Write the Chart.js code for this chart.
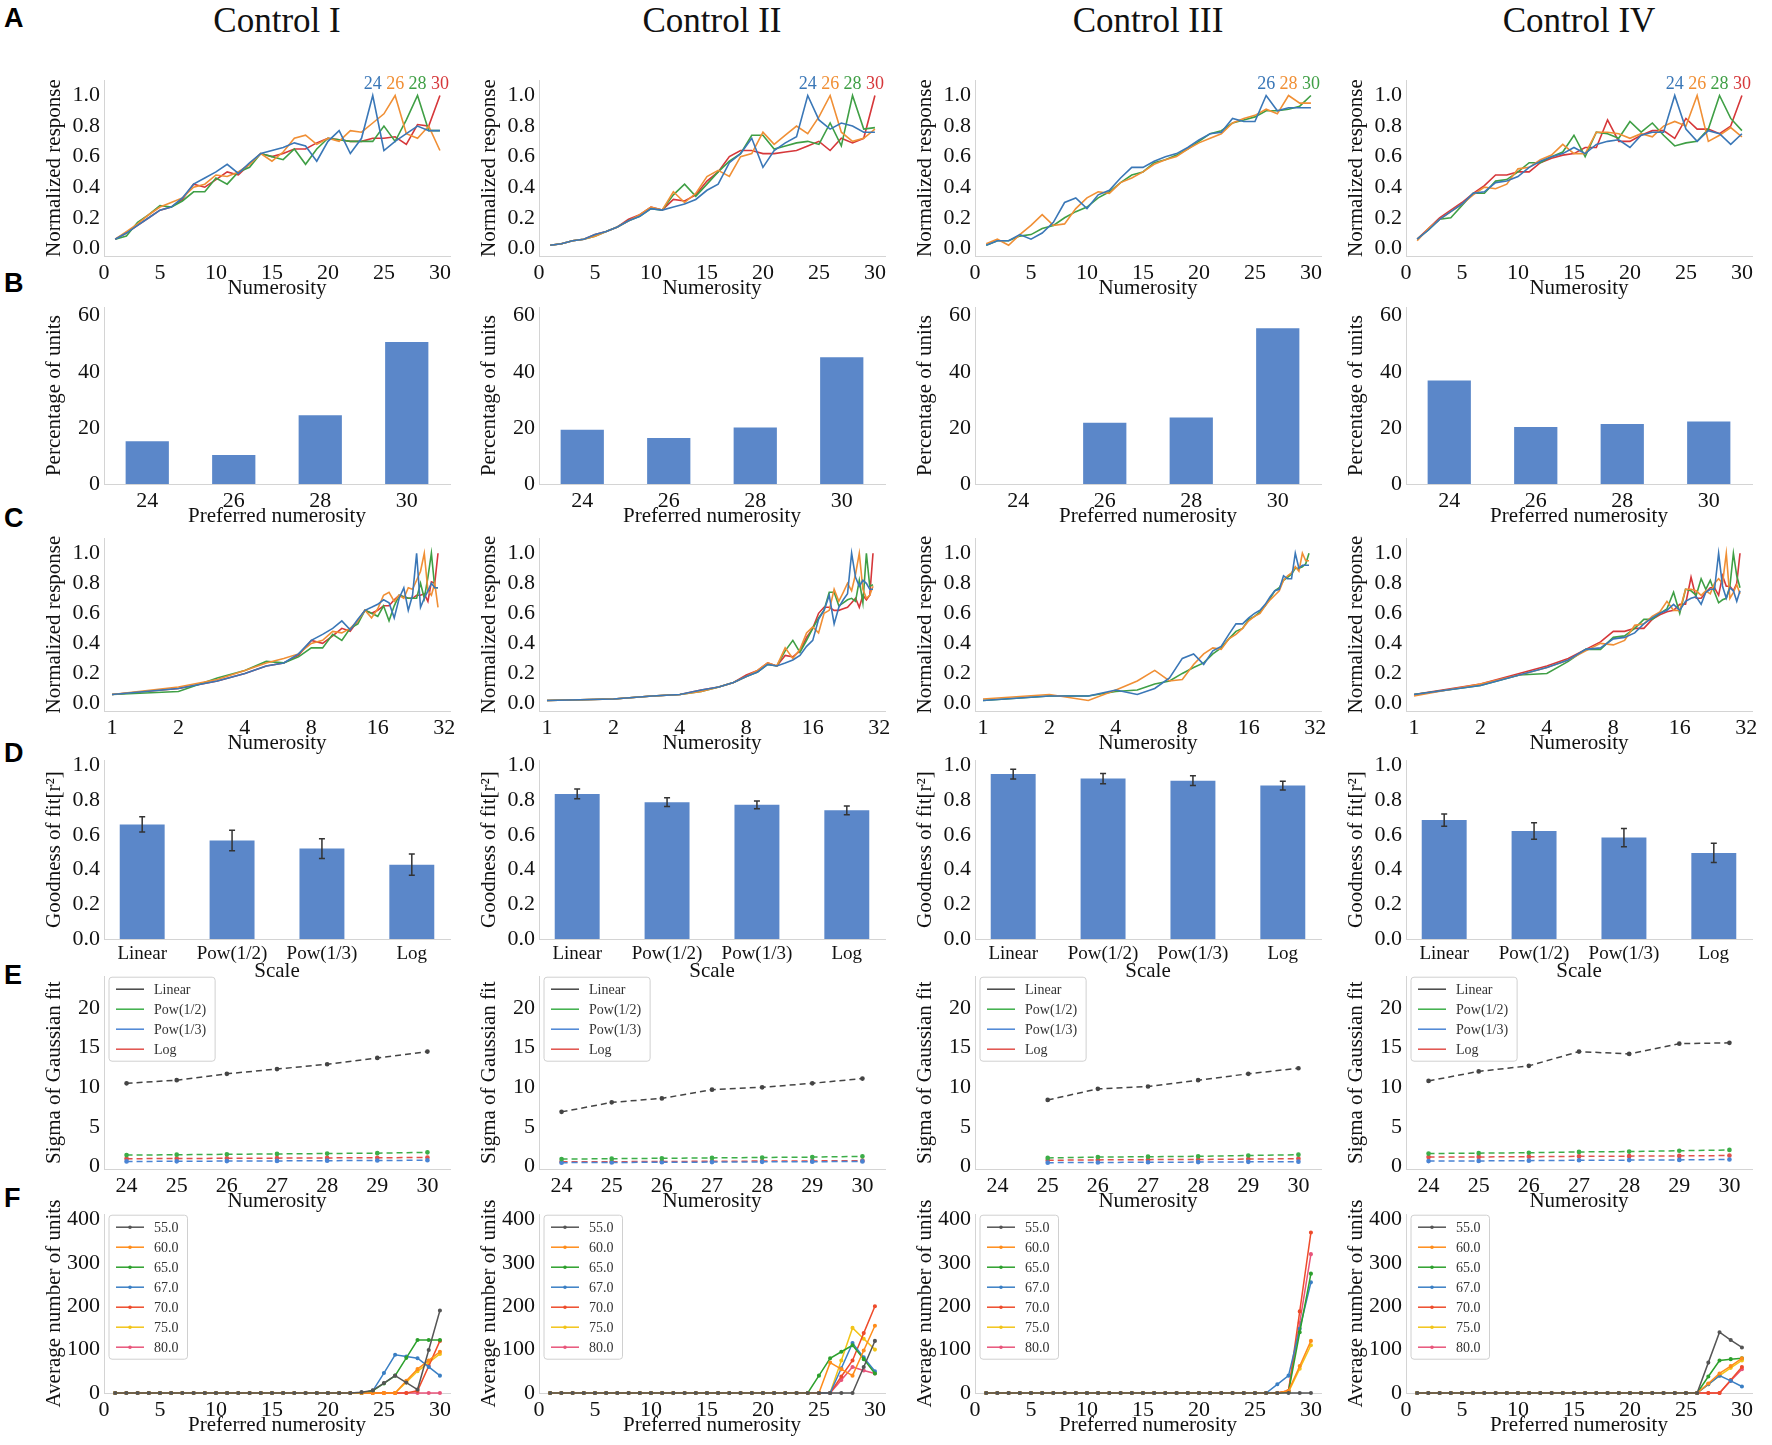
<!DOCTYPE html>
<html>
<head>
<meta charset="utf-8">
<script src="https://cdn.jsdelivr.net/npm/chart.js@4.4.0/dist/chart.umd.min.js"></script>
<style>
  html, body { margin: 0; padding: 0; background: #fff; }
  body { width: 1772px; height: 1445px; position: relative; overflow: hidden; font-family: 'Liberation Serif', serif; }
  .title { position: absolute; font-family: 'Liberation Serif', serif; font-size: 35px; line-height: 35px;
           color: #111; transform: translateX(-50%); white-space: nowrap; }
  .letter { position: absolute; left: 4px; font-family: 'Liberation Sans', Arial, sans-serif; font-weight: bold;
            font-size: 27px; line-height: 27px; color: #000; }
</style>
</head>
<body>
<script>
// ---- data ----
const CONTROLS = ['Control I', 'Control II', 'Control III', 'Control IV'];
const NUMS = [1,2,3,4,5,6,7,8,9,10,11,12,13,14,15,16,17,18,19,20,21,22,23,24,25,26,27,28,29,30];

// normalized tuning curves (rows A and C)
const CI_24 = [0.06,0.10,0.15,0.20,0.25,0.27,0.33,0.42,0.46,0.50, 0.55,0.49,0.56,0.62,0.64,0.66,0.69,0.67,0.57,0.70, 0.77,0.62,0.72,1.00,0.64,0.70,0.75,0.80,0.77,0.77];
const CI_26 = [0.06,0.11,0.16,0.22,0.27,0.30,0.33,0.40,0.42,0.48, 0.47,0.50,0.55,0.62,0.57,0.63,0.72,0.74,0.68,0.72, 0.70,0.77,0.76,0.82,0.88,1.00,0.75,0.72,0.80,0.64];
const CI_28 = [0.06,0.08,0.17,0.22,0.28,0.27,0.31,0.37,0.37,0.46, 0.42,0.50,0.53,0.62,0.60,0.58,0.65,0.55,0.65,0.72, 0.71,0.70,0.70,0.70,0.80,0.70,0.84,1.00,0.77,0.77];
const CI_30 = [0.06,0.10,0.15,0.20,0.25,0.27,0.32,0.42,0.40,0.45, 0.50,0.48,0.55,0.62,0.60,0.62,0.65,0.65,0.69,0.72, 0.71,0.70,0.70,0.72,0.72,0.73,0.68,0.81,0.80,1.00];

const CII_24 = [0.02,0.03,0.05,0.06,0.09,0.11,0.14,0.18,0.21,0.26, 0.25,0.27,0.29,0.32,0.38,0.42,0.56,0.62,0.72,0.53, 0.64,0.69,0.73,1.00,0.84,0.78,0.82,0.80,0.76,0.76];
const CII_26 = [0.02,0.03,0.05,0.06,0.08,0.11,0.14,0.18,0.22,0.27, 0.25,0.37,0.30,0.36,0.47,0.51,0.47,0.60,0.62,0.76, 0.68,0.74,0.80,0.75,0.86,1.00,0.76,0.70,0.72,0.78];
const CII_28 = [0.02,0.03,0.05,0.06,0.08,0.11,0.14,0.18,0.21,0.26, 0.25,0.35,0.42,0.34,0.42,0.50,0.57,0.62,0.74,0.74, 0.65,0.67,0.69,0.70,0.68,0.82,0.67,1.00,0.78,0.79];
const CII_30 = [0.02,0.03,0.05,0.06,0.09,0.11,0.14,0.19,0.22,0.27, 0.25,0.32,0.31,0.35,0.44,0.50,0.60,0.64,0.64,0.62, 0.62,0.63,0.64,0.67,0.70,0.64,0.72,0.69,0.72,1.00];

const CIII_26 = [0.02,0.05,0.05,0.09,0.06,0.10,0.17,0.30,0.33,0.26, 0.35,0.38,0.46,0.53,0.53,0.57,0.60,0.62,0.66,0.71, 0.75,0.76,0.85,0.83,0.83,1.00,0.90,0.92,0.92,0.92];
const CIII_28 = [0.03,0.06,0.02,0.09,0.15,0.22,0.15,0.16,0.26,0.33, 0.37,0.36,0.43,0.46,0.50,0.55,0.58,0.60,0.65,0.69, 0.72,0.75,0.82,0.85,0.87,0.91,0.88,1.00,0.95,0.95];
const CIII_30 = [0.02,0.05,0.05,0.08,0.09,0.13,0.15,0.20,0.24,0.27, 0.33,0.37,0.43,0.48,0.50,0.56,0.58,0.61,0.65,0.70, 0.75,0.77,0.82,0.84,0.86,0.90,0.90,0.91,0.93,1.00];

const CIV_24 = [0.06,0.12,0.19,0.24,0.29,0.36,0.37,0.43,0.44,0.47, 0.53,0.57,0.60,0.62,0.66,0.62,0.68,0.70,0.71,0.66, 0.74,0.76,0.76,1.00,0.78,0.70,0.77,0.75,0.68,0.75];
const CIV_26 = [0.05,0.13,0.19,0.24,0.29,0.35,0.40,0.39,0.42,0.52, 0.53,0.58,0.61,0.68,0.62,0.62,0.76,0.76,0.75,0.72, 0.75,0.73,0.80,0.83,0.80,1.00,0.70,0.74,0.79,0.73];
const CIV_28 = [0.06,0.12,0.19,0.20,0.28,0.36,0.36,0.44,0.45,0.50, 0.56,0.56,0.60,0.63,0.74,0.60,0.76,0.75,0.72,0.83, 0.76,0.82,0.74,0.67,0.69,0.70,0.78,1.00,0.85,0.77];
const CIV_30 = [0.06,0.13,0.20,0.25,0.30,0.36,0.41,0.48,0.48,0.50, 0.50,0.56,0.59,0.61,0.62,0.66,0.66,0.84,0.70,0.70, 0.74,0.77,0.77,0.72,0.85,0.78,0.78,0.75,0.80,1.00];

const RESP = [[CI_24, CI_26, CI_28, CI_30], [CII_24, CII_26, CII_28, CII_30],
              [CIII_26, CIII_28, CIII_30], [CIV_24, CIV_26, CIV_28, CIV_30]];
const PREFS = [[24, 26, 28, 30], [24, 26, 28, 30], [26, 28, 30], [24, 26, 28, 30]];

// row B: percentage of units per preferred numerosity
const PREF_NUMS = [24, 26, 28, 30];
const PCT_CI   = [15.2, 10.3, 24.5, 50.6];
const PCT_CII  = [19.3, 16.4, 20.1, 45.2];
const PCT_CIII = [0, 21.8, 23.7, 55.5];
const PCT_CIV  = [36.9, 20.3, 21.4, 22.3];
const PCT = [PCT_CI, PCT_CII, PCT_CIII, PCT_CIV];

// row D: goodness of fit
const SCALE_NAMES = ['Linear', 'Pow(1/2)', 'Pow(1/3)', 'Log'];
const FIT_CI   = [0.660, 0.567, 0.521, 0.428];
const FIT_CII  = [0.836, 0.788, 0.773, 0.741];
const FIT_CIII = [0.950, 0.924, 0.912, 0.884];
const FIT_CIV  = [0.685, 0.622, 0.584, 0.496];
const ERR_CI   = [0.044, 0.059, 0.057, 0.061];
const ERR_CII  = [0.028, 0.025, 0.022, 0.025];
const ERR_CIII = [0.028, 0.030, 0.028, 0.025];
const ERR_CIV  = [0.035, 0.047, 0.053, 0.055];
const FIT = [FIT_CI, FIT_CII, FIT_CIII, FIT_CIV];
const ERR = [ERR_CI, ERR_CII, ERR_CIII, ERR_CIV];

// row E: sigma of gaussian fit
const E_NUMS = [24, 25, 26, 27, 28, 29, 30];
const SIG_CI   = { Linear: [10.5, 10.9, 11.7, 12.3, 12.9, 13.7, 14.5], Pow12: [1.45, 1.5, 1.55, 1.6, 1.65, 1.7, 1.8],
                   Pow13: [0.65, 0.67, 0.7, 0.72, 0.75, 0.77, 0.8], Log: [1.0, 1.02, 1.05, 1.07, 1.1, 1.12, 1.15] };
const SIG_CII  = { Linear: [6.9, 8.1, 8.6, 9.7, 10.0, 10.5, 11.1], Pow12: [0.95, 1.0, 1.05, 1.1, 1.15, 1.2, 1.3],
                   Pow13: [0.5, 0.52, 0.55, 0.57, 0.6, 0.62, 0.65], Log: [0.6, 0.62, 0.65, 0.67, 0.7, 0.72, 0.75] };
const SIG_CIII = { Linear: [null, 8.4, 9.8, 10.1, 10.9, 11.7, 12.4], Pow12: [null, 1.1, 1.2, 1.25, 1.3, 1.4, 1.5],
                   Pow13: [null, 0.5, 0.52, 0.55, 0.57, 0.6, 0.62], Log: [null, 0.8, 0.85, 0.88, 0.9, 0.95, 1.0] };
const SIG_CIV  = { Linear: [10.8, 12.0, 12.7, 14.5, 14.2, 15.5, 15.6], Pow12: [1.65, 1.7, 1.75, 1.85, 1.9, 2.0, 2.1],
                   Pow13: [0.7, 0.72, 0.75, 0.8, 0.82, 0.85, 0.9], Log: [1.2, 1.22, 1.25, 1.3, 1.32, 1.35, 1.4] };
const SIG = [SIG_CI, SIG_CII, SIG_CIII, SIG_CIV];
const SIG_KEYS = ['Linear', 'Pow12', 'Pow13', 'Log'];
const SIG_LABELS = ['Linear', 'Pow(1/2)', 'Pow(1/3)', 'Log'];

// row F: average number of units per threshold
const THRESH = ['55.0', '60.0', '65.0', '67.0', '70.0', '75.0', '80.0'];
const UNITS_CI = [
  [0,0,0,0,0,0,0,0,0,0, 0,0,0,0,0,0,0,0,0,0, 0,0,2,6,23,40,24,8,99,190],
  [0,0,0,0,0,0,0,0,0,0, 0,0,0,0,0,0,0,0,0,0, 0,0,0,0,0,0,28,55,75,95],
  [0,0,0,0,0,0,0,0,0,0, 0,0,0,0,0,0,0,0,0,0, 0,0,0,5,22,40,81,122,122,122],
  [0,0,0,0,0,0,0,0,0,0, 0,0,0,0,0,0,0,0,0,0, 0,0,0,5,46,88,84,80,60,40],
  [0,0,0,0,0,0,0,0,0,0, 0,0,0,0,0,0,0,0,0,0, 0,0,0,0,0,0,0,5,62,120],
  [0,0,0,0,0,0,0,0,0,0, 0,0,0,0,0,0,0,0,0,0, 0,0,0,0,0,0,25,50,70,90],
  [0,0,0,0,0,0,0,0,0,0, 0,0,0,0,0,0,0,0,0,0, 0,0,0,0,0,0,0,0,0,0]
];
const UNITS_CII = [
  [0,0,0,0,0,0,0,0,0,0, 0,0,0,0,0,0,0,0,0,0, 0,0,0,0,0,0,0,0,60,120],
  [0,0,0,0,0,0,0,0,0,0, 0,0,0,0,0,0,0,0,0,0, 0,0,0,0,0,70,55,40,98,155],
  [0,0,0,0,0,0,0,0,0,0, 0,0,0,0,0,0,0,0,0,0, 0,0,0,0,40,80,95,110,78,45],
  [0,0,0,0,0,0,0,0,0,0, 0,0,0,0,0,0,0,0,0,0, 0,0,0,0,0,0,57,115,82,50],
  [0,0,0,0,0,0,0,0,0,0, 0,0,0,0,0,0,0,0,0,0, 0,0,0,0,0,0,38,75,138,200],
  [0,0,0,0,0,0,0,0,0,0, 0,0,0,0,0,0,0,0,0,0, 0,0,0,0,0,0,75,150,125,100],
  [0,0,0,0,0,0,0,0,0,0, 0,0,0,0,0,0,0,0,0,0, 0,0,0,0,0,0,30,60,52,45]
];
const UNITS_CIII = [
  [0,0,0,0,0,0,0,0,0,0, 0,0,0,0,0,0,0,0,0,0, 0,0,0,0,0,0,0,0,0,0],
  [0,0,0,0,0,0,0,0,0,0, 0,0,0,0,0,0,0,0,0,0, 0,0,0,0,0,0,0,5,62,120],
  [0,0,0,0,0,0,0,0,0,0, 0,0,0,0,0,0,0,0,0,0, 0,0,0,0,0,0,0,3,140,275],
  [0,0,0,0,0,0,0,0,0,0, 0,0,0,0,0,0,0,0,0,0, 0,0,0,0,0,0,20,40,148,255],
  [0,0,0,0,0,0,0,0,0,0, 0,0,0,0,0,0,0,0,0,0, 0,0,0,0,0,0,0,5,188,370],
  [0,0,0,0,0,0,0,0,0,0, 0,0,0,0,0,0,0,0,0,0, 0,0,0,0,0,0,0,2,56,110],
  [0,0,0,0,0,0,0,0,0,0, 0,0,0,0,0,0,0,0,0,0, 0,0,0,0,0,0,0,5,162,320]
];
const UNITS_CIV = [
  [0,0,0,0,0,0,0,0,0,0, 0,0,0,0,0,0,0,0,0,0, 0,0,0,0,0,0,70,140,122,105],
  [0,0,0,0,0,0,0,0,0,0, 0,0,0,0,0,0,0,0,0,0, 0,0,0,0,0,0,22,45,62,80],
  [0,0,0,0,0,0,0,0,0,0, 0,0,0,0,0,0,0,0,0,0, 0,0,0,0,0,0,38,75,78,80],
  [0,0,0,0,0,0,0,0,0,0, 0,0,0,0,0,0,0,0,0,0, 0,0,0,0,0,0,20,40,28,15],
  [0,0,0,0,0,0,0,0,0,0, 0,0,0,0,0,0,0,0,0,0, 0,0,0,0,0,0,0,0,30,60],
  [0,0,0,0,0,0,0,0,0,0, 0,0,0,0,0,0,0,0,0,0, 0,0,0,0,0,0,20,40,58,75],
  [0,0,0,0,0,0,0,0,0,0, 0,0,0,0,0,0,0,0,0,0, 0,0,0,0,0,0,0,0,28,55]
];
const UNITS = [UNITS_CI, UNITS_CII, UNITS_CIII, UNITS_CIV];

// tick labels
const RESP_TICKS = [0, 0.2, 0.4, 0.6, 0.8, 1.0];
const LIN_X_TICKS = [0, 5, 10, 15, 20, 25, 30];
const LOG_X_TICKS = [1, 2, 4, 8, 16, 32];
const PCT_TICKS = [0, 20, 40, 60];
const SIG_TICKS = [0, 5, 10, 15, 20];
const UNIT_TICKS = [0, 100, 200, 300, 400];
const SCALE_POS = [0, 1, 2, 3];

// ---- style ----
const SERIF = '"Liberation Serif", "Times New Roman", serif';
const INK = '#111';
const SPINE = '#d4d4d4';
const LINE_COLORS = ['#3a77b7', '#f08f35', '#3f9f45', '#d6373a'];
const BAR_COLOR = '#5b87c9';
const SIG_COLORS = ['#444444', '#3cae48', '#4a84d4', '#e0504a'];
const THRESH_COLORS = ['#555555', '#ff8c1a', '#2ca02c', '#3a7fc4', '#ee4b2b', '#f2c418', '#e8557a'];

Chart.defaults.font.family = SERIF;
Chart.defaults.animation = false;

// panel boxes (plot area in page pixels)
const COL_LEFT = [104, 539, 975, 1406];
const BOX_W = 346;
const ROWS = {
  A: { top: 79, bottom: 256 },
  B: { top: 306, bottom: 484 },
  C: { top: 537, bottom: 711 },
  D: { top: 759, bottom: 939 },
  E: { top: 975, bottom: 1169 },
  F: { top: 1213, bottom: 1393 }
};
const AXIS_W = 62, AXIS_H = 45, PAD_T = 16, PAD_R = 18;

// ---- plugins ----
const prefLabels = {
  id: 'prefLabels',
  afterDatasetsDraw(chart, args, opts) {
    if (!opts.values) return;
    const { ctx, scales } = chart;
    ctx.save();
    ctx.font = `18px ${SERIF}`;
    ctx.textAlign = 'center';
    ctx.textBaseline = 'middle';
    opts.values.forEach((v, i) => {
      ctx.fillStyle = LINE_COLORS[i];
      ctx.fillText(String(v), scales.x.getPixelForValue(v), scales.y.getPixelForValue(1.075));
    });
    ctx.restore();
  }
};

const errorBars = {
  id: 'errorBars',
  afterDatasetsDraw(chart, args, opts) {
    if (!opts.errors) return;
    const { ctx } = chart;
    const ys = chart.scales.y;
    const ds = chart.data.datasets[0];
    ctx.save();
    ctx.strokeStyle = '#333';
    ctx.lineWidth = 1.5;
    chart.getDatasetMeta(0).data.forEach((bar, i) => {
      const v = ds.data[i].y, e = opts.errors[i];
      const y1 = ys.getPixelForValue(v - e), y2 = ys.getPixelForValue(v + e);
      ctx.beginPath();
      ctx.moveTo(bar.x, y1); ctx.lineTo(bar.x, y2);
      ctx.moveTo(bar.x - 3, y1); ctx.lineTo(bar.x + 3, y1);
      ctx.moveTo(bar.x - 3, y2); ctx.lineTo(bar.x + 3, y2);
      ctx.stroke();
    });
    ctx.restore();
  }
};

const boxLegend = {
  id: 'boxLegend',
  afterDraw(chart, args, opts) {
    if (!opts.show) return;
    const { ctx, chartArea } = chart;
    const sets = chart.data.datasets;
    ctx.save();
    ctx.font = `14px ${SERIF}`;
    const tw = Math.max(...sets.map(d => ctx.measureText(d.label).width));
    const x0 = chartArea.left + 5, y0 = chartArea.top + 1;
    const w = 45 + tw + 9, h = sets.length * 20 + 4;
    ctx.beginPath();
    ctx.roundRect(x0, y0, w, h, 3);
    ctx.fillStyle = 'rgba(255,255,255,0.85)';
    ctx.fill();
    ctx.strokeStyle = '#d0d0d0';
    ctx.lineWidth = 1;
    ctx.stroke();
    sets.forEach((d, i) => {
      const y = y0 + 12 + i * 20;
      ctx.strokeStyle = d.borderColor;
      ctx.lineWidth = 1.5;
      ctx.setLineDash([]);
      ctx.beginPath();
      ctx.moveTo(x0 + 7, y); ctx.lineTo(x0 + 35, y);
      ctx.stroke();
      if (opts.marker) {
        ctx.fillStyle = d.borderColor;
        ctx.beginPath(); ctx.arc(x0 + 21, y, 1.8, 0, Math.PI * 2); ctx.fill();
      }
      ctx.fillStyle = '#333';
      ctx.textBaseline = 'middle';
      ctx.fillText(d.label, x0 + 45, y + 1);
    });
    ctx.restore();
  }
};

Chart.register(prefLabels, errorBars, boxLegend);

// ---- helpers ----
function xAxis(type, min, max, ticks, title, fmt, size) {
  return {
    type, min, max, offset: false,
    afterBuildTicks: s => { s.ticks = ticks.map(v => ({ value: v })); },
    afterFit: s => { s.height = AXIS_H; },
    grid: { display: false, drawTicks: false, offset: false },
    border: { display: true, color: SPINE, width: 1 },
    ticks: { padding: 4, color: INK, autoSkip: false, maxRotation: 0, minRotation: 0,
             font: { family: SERIF, size: size || 22 }, callback: fmt },
    title: { display: true, text: title, color: INK, padding: 0, font: { family: SERIF, size: 21 } }
  };
}

function yAxis(min, max, ticks, title, fmt) {
  return {
    type: 'linear', min, max,
    afterBuildTicks: s => { s.ticks = ticks.map(v => ({ value: v })); },
    afterFit: s => { s.width = AXIS_W; },
    grid: { display: false, drawTicks: false },
    border: { display: true, color: SPINE, width: 1 },
    ticks: { padding: 4, color: INK, font: { family: SERIF, size: 22 }, callback: fmt },
    title: { display: true, text: title, color: INK, padding: 0, font: { family: SERIF, size: 21 } }
  };
}

function addPanel(row, col, config) {
  const r = ROWS[row];
  const left = COL_LEFT[col] - AXIS_W;
  const top = r.top - PAD_T;
  const w = AXIS_W + BOX_W + PAD_R;
  const h = PAD_T + (r.bottom - r.top) + AXIS_H;
  const cv = document.createElement('canvas');
  cv.style.cssText = `position:absolute;left:${left}px;top:${top}px;width:${w}px;height:${h}px;`;
  cv.width = w; cv.height = h;
  document.body.appendChild(cv);
  config.options.responsive = false;
  config.options.layout = { padding: { top: PAD_T, right: PAD_R, left: 0, bottom: 0 } };
  config.options.plugins = Object.assign({ legend: { display: false }, tooltip: { enabled: false } },
                                         config.options.plugins || {});
  new Chart(cv, config);
}

const num = v => String(v);
const oneDec = v => Number(v).toFixed(1);

function respSets(c) {
  return RESP[c].map((arr, i) => ({
    data: NUMS.map((x, k) => ({ x, y: arr[k] })),
    borderColor: LINE_COLORS[i], borderWidth: 1.6, pointRadius: 0, tension: 0, clip: false
  }));
}

// ---- headings ----
CONTROLS.forEach((t, c) => {
  const d = document.createElement('div');
  d.className = 'title';
  d.textContent = t;
  d.style.left = (COL_LEFT[c] + BOX_W / 2) + 'px';
  d.style.top = '3px';
  document.body.appendChild(d);
});
const LETTERS = ['A', 'B', 'C', 'D', 'E', 'F'];
const LETTER_TOP = [5, 270, 505, 740, 962, 1185];
LETTERS.forEach((l, i) => {
  const d = document.createElement('div');
  d.className = 'letter';
  d.textContent = l;
  d.style.top = LETTER_TOP[i] + 'px';
  document.body.appendChild(d);
});

// ---- panels ----
function buildAll() {
  for (let c = 0; c < 4; c++) {
    // A: tuning curves, linear axis
    addPanel('A', c, {
      type: 'line',
      data: { datasets: respSets(c) },
      options: {
        scales: { x: xAxis('linear', 0, 30.9, LIN_X_TICKS, 'Numerosity', num),
                  y: yAxis(-0.05, 1.1, RESP_TICKS, 'Normalized response', oneDec) },
        plugins: { prefLabels: { values: PREFS[c] } }
      }
    });

    // B: distribution of preferred numerosity
    addPanel('B', c, {
      type: 'bar',
      data: { datasets: [{ data: PREF_NUMS.map((x, i) => ({ x, y: PCT[c][i] })),
                           backgroundColor: BAR_COLOR, barPercentage: 0.5, categoryPercentage: 1 }] },
      options: {
        scales: { x: xAxis('linear', 23, 31, PREF_NUMS, 'Preferred numerosity', num),
                  y: yAxis(0, 63, PCT_TICKS, 'Percentage of units', num) }
      }
    });

    // C: tuning curves, log axis
    addPanel('C', c, {
      type: 'line',
      data: { datasets: respSets(c) },
      options: {
        scales: { x: xAxis('logarithmic', 0.92, 34, LOG_X_TICKS, 'Numerosity', num),
                  y: yAxis(-0.05, 1.1, RESP_TICKS, 'Normalized response', oneDec) }
      }
    });

    // D: goodness of fit
    addPanel('D', c, {
      type: 'bar',
      data: { datasets: [{ data: SCALE_POS.map((x, i) => ({ x, y: FIT[c][i] })),
                           backgroundColor: BAR_COLOR, barPercentage: 0.5, categoryPercentage: 1 }] },
      options: {
        scales: { x: xAxis('linear', -0.425, 3.425, SCALE_POS, 'Scale', v => SCALE_NAMES[v], 19),
                  y: yAxis(0, 1.03, RESP_TICKS, 'Goodness of fit[r\u00b2]', oneDec) },
        plugins: { errorBars: { errors: ERR[c] } }
      }
    });

    // E: sigma of gaussian fit
    addPanel('E', c, {
      type: 'line',
      data: { datasets: SIG_KEYS.map((k, i) => ({
        label: SIG_LABELS[i],
        data: E_NUMS.map((x, j) => ({ x, y: SIG[c][k][j] })),
        borderColor: SIG_COLORS[i], backgroundColor: SIG_COLORS[i],
        borderWidth: 1.5, borderDash: [6, 4], pointRadius: 1.6, tension: 0, clip: false
      })) },
      options: {
        scales: { x: xAxis('linear', 23.55, 30.45, E_NUMS, 'Numerosity', num),
                  y: yAxis(-0.3, 24, SIG_TICKS, 'Sigma of Gaussian fit', num) },
        plugins: { boxLegend: { show: true, marker: false } }
      }
    });

    // F: average number of units
    addPanel('F', c, {
      type: 'line',
      data: { datasets: THRESH.map((t, i) => ({
        label: t,
        data: NUMS.map((x, k) => ({ x, y: UNITS[c][i][k] })),
        borderColor: THRESH_COLORS[i], backgroundColor: THRESH_COLORS[i],
        borderWidth: 1.5, pointRadius: 1.3, tension: 0, clip: false
      })) },
      options: {
        scales: { x: xAxis('linear', 0, 30.9, LIN_X_TICKS, 'Preferred numerosity', num),
                  y: yAxis(0, 412, UNIT_TICKS, 'Average number of units', num) },
        plugins: { boxLegend: { show: true, marker: true } }
      }
    });
  }
}

// make sure the serif face is ready before the canvases measure text
let built = false;
function buildOnce() { if (!built) { built = true; buildAll(); } }
if (document.fonts && document.fonts.load) {
  Promise.all([
    document.fonts.load('22px "Liberation Serif"'),
    document.fonts.load('14px "Liberation Serif"')
  ]).then(buildOnce, buildOnce);
  setTimeout(buildOnce, 800);
} else {
  buildOnce();
}
</script>
</body>
</html>
